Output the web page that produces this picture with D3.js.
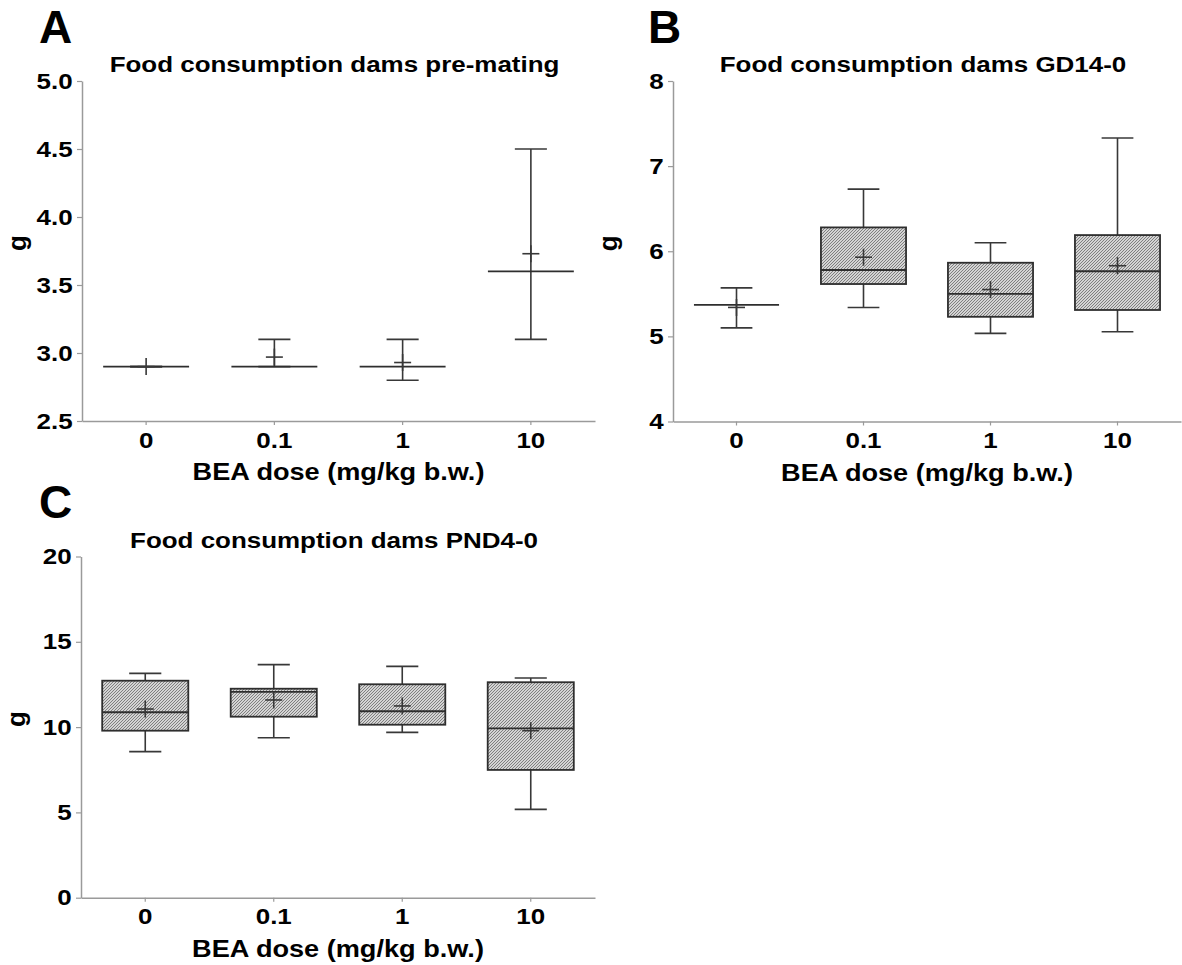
<!DOCTYPE html>
<html><head><meta charset="utf-8">
<script src="https://cdn.jsdelivr.net/npm/d3@7"></script>
<style>
html,body{margin:0;padding:0;background:#fff;}
text{font-family:"Liberation Sans",Arial,sans-serif;font-weight:bold;fill:#000;}
</style></head>
<body><svg id="c" width="1182" height="965"></svg>
<script>
// ---------- data ----------
const categories = ["0", "0.1", "1", "10"];

// A: pre-mating
const aMin    = [2.90, 2.90, 2.80, 3.10];
const aQ1     = [2.90, 2.90, 2.90, 3.60];
const aMedian = [2.90, 2.90, 2.90, 3.60];
const aQ3     = [2.90, 2.90, 2.90, 3.60];
const aMax    = [2.90, 3.10, 3.10, 4.50];
const aMean   = [2.90, 2.97, 2.93, 3.73];
const aTicks  = [2.5, 3.0, 3.5, 4.0, 4.5, 5.0];

// B: GD14-0
const bMin    = [5.10, 5.34, 5.035, 5.055];
const bQ1     = [5.37, 5.615, 5.23, 5.31];
const bMedian = [5.37, 5.78, 5.50, 5.765];
const bQ3     = [5.37, 6.28, 5.865, 6.19];
const bMax    = [5.57, 6.73, 6.10, 7.33];
const bMean   = [5.34, 5.93, 5.55, 5.83];
const bTicks  = [4, 5, 6, 7, 8];

// C: PND4-0
const cMin    = [8.56, 9.38, 9.69, 5.18];
const cQ1     = [9.79, 10.61, 10.14, 7.49];
const cMedian = [10.87, 12.07, 10.93, 9.93];
const cQ3     = [12.72, 12.25, 12.51, 12.63];
const cMax    = [13.15, 13.66, 13.56, 12.88];
const cMean   = [11.06, 11.59, 11.24, 9.79];
const cTicks  = [0, 5, 10, 15, 20];

const xTitle = "BEA dose (mg/kg b.w.)";
const yTitle = "g";

// ---------- drawing ----------
const svg = d3.select("#c");
const K = 1.18; // horizontal text stretch seen in the figure

const defs = svg.append("defs");
const pat = defs.append("pattern").attr("id","hatch").attr("patternUnits","userSpaceOnUse")
  .attr("width",3).attr("height",3);
pat.append("rect").attr("width",3).attr("height",3).attr("fill","#d4d4d4");
pat.append("path").attr("d","M-1,1 L1,-1 M0,3 L3,0 M2,4 L4,2")
  .attr("stroke","#6a6a6a").attr("stroke-width",0.8);

function stretchedText(g, x, y, str, size, anchor){
  return g.append("text")
    .attr("transform",`translate(${x},${y}) scale(${K},1)`)
    .attr("text-anchor",anchor||"middle")
    .style("font-size",size+"px")
    .text(str);
}

function panel(cfg){
  const g = svg.append("g");
  const x = d3.scaleBand().domain(categories).range(cfg.xr).padding(0);
  const y = d3.scaleLinear().domain(cfg.dom).range(cfg.yr);
  const step = x.step();
  const bw = step*0.67, cw = step*0.25, mh = 8.5;

  const rows = categories.map((c,i)=>({c, min:cfg.min[i], q1:cfg.q1[i], med:cfg.med[i],
      q3:cfg.q3[i], max:cfg.max[i], mean:cfg.mean[i]}));

  // axes
  const ya = d3.axisLeft(y).tickValues(cfg.ticks).tickFormat(cfg.fmt).tickSize(5).tickSizeOuter(0).tickPadding(3);
  const yg = g.append("g").attr("transform",`translate(${cfg.xr[0]},0)`).call(ya);
  const xa = d3.axisBottom(x).tickSize(4).tickSizeOuter(0).tickPadding(7);
  const xg = g.append("g").attr("transform",`translate(0,${cfg.yr[0]})`).call(xa);
  [yg,xg].forEach(a=>{
    a.select(".domain").attr("stroke","#9a9a9a").attr("stroke-width",1.5);
    a.selectAll(".tick line").attr("stroke","#9a9a9a").attr("stroke-width",1.2);
    a.selectAll(".tick text").style("font-size","22px").attr("fill","#000")
      .style("font-family",'"Liberation Sans",Arial,sans-serif').style("font-weight","bold")
      .attr("transform",`scale(${K},1)`);
  });

  const cx = d => x(d.c) + step/2;
  const ink = "#383838";
  // whiskers
  g.selectAll(".wh").data(rows).join("line")
    .attr("x1",cx).attr("x2",cx).attr("y1",d=>y(d.min)).attr("y2",d=>y(d.max))
    .attr("stroke",ink).attr("stroke-width",1.6);
  g.selectAll(".capLo").data(rows).join("line")
    .attr("x1",d=>cx(d)-cw/2).attr("x2",d=>cx(d)+cw/2).attr("y1",d=>y(d.min)).attr("y2",d=>y(d.min))
    .attr("stroke",ink).attr("stroke-width",1.6);
  g.selectAll(".capHi").data(rows).join("line")
    .attr("x1",d=>cx(d)-cw/2).attr("x2",d=>cx(d)+cw/2).attr("y1",d=>y(d.max)).attr("y2",d=>y(d.max))
    .attr("stroke",ink).attr("stroke-width",1.6);
  // boxes
  g.selectAll(".box").data(rows).join("rect")
    .attr("x",d=>cx(d)-bw/2).attr("width",bw)
    .attr("y",d=>y(d.q3)).attr("height",d=>y(d.q1)-y(d.q3))
    .attr("fill",d=>d.q3>d.q1?"url(#hatch)":"none").attr("stroke","#2e2e2e").attr("stroke-width",1.8);
  g.selectAll(".med").data(rows).join("line")
    .attr("x1",d=>cx(d)-bw/2).attr("x2",d=>cx(d)+bw/2).attr("y1",d=>y(d.med)).attr("y2",d=>y(d.med))
    .attr("stroke","#2e2e2e").attr("stroke-width",1.8);
  // mean crosses
  g.selectAll(".mh").data(rows).join("line")
    .attr("x1",d=>cx(d)-mh).attr("x2",d=>cx(d)+mh).attr("y1",d=>y(d.mean)).attr("y2",d=>y(d.mean))
    .attr("stroke",ink).attr("stroke-width",1.6);
  g.selectAll(".mv").data(rows).join("line")
    .attr("x1",cx).attr("x2",cx).attr("y1",d=>y(d.mean)-mh).attr("y2",d=>y(d.mean)+mh)
    .attr("stroke",ink).attr("stroke-width",1.6);

  // texts
  const midX = (cfg.xr[0]+cfg.xr[1])/2;
  stretchedText(g, midX-4, cfg.yr[1]-9, cfg.title, 22);
  stretchedText(g, midX, cfg.yr[0]+59, xTitle, 23);
  g.append("text").attr("transform",`translate(${cfg.xr[0]-56},${(cfg.yr[0]+cfg.yr[1])/2-8}) rotate(-90)`)
    .attr("text-anchor","middle").style("font-size","26px").text(yTitle);
  g.append("text").attr("x",cfg.letter[0]).attr("y",cfg.letter[1]).style("font-size","46px").text(cfg.letter[2]);
}

panel({xr:[82,595], yr:[421,81], dom:[2.5,5.0], ticks:aTicks, fmt:d3.format(".1f"),
  min:aMin,q1:aQ1,med:aMedian,q3:aQ3,max:aMax,mean:aMean,
  title:"Food consumption dams pre-mating", letter:[39,43,"A"]});
panel({xr:[673,1181], yr:[421.5,81], dom:[4,8], ticks:bTicks, fmt:d3.format("d"),
  min:bMin,q1:bQ1,med:bMedian,q3:bQ3,max:bMax,mean:bMean,
  title:"Food consumption dams GD14-0", letter:[648,43,"B"]});
panel({xr:[81,595], yr:[897.7,556.5], dom:[0,20], ticks:cTicks, fmt:d3.format("d"),
  min:cMin,q1:cQ1,med:cMedian,q3:cQ3,max:cMax,mean:cMean,
  title:"Food consumption dams PND4-0", letter:[39,518,"C"]});
</script></body></html>
